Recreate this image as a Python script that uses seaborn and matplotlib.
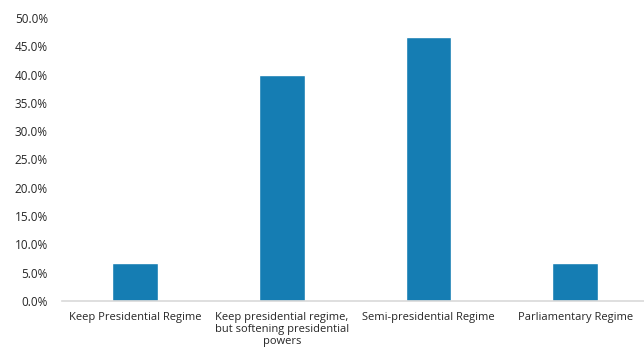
import matplotlib
matplotlib.use("Agg")
import matplotlib.pyplot as plt
import seaborn as sns
import pandas as pd
from matplotlib.ticker import PercentFormatter

# data
categories = ["Keep Presidential Regime",
              "Keep presidential regime,\nbut softening presidential\npowers",
              "Semi-presidential Regime",
              "Parliamentary Regime"]
shares = [0.067, 0.400, 0.467, 0.067]
yticks = [0.0, 0.05, 0.10, 0.15, 0.20, 0.25, 0.30, 0.35, 0.40, 0.45, 0.50]

df = pd.DataFrame({"option": categories, "share": shares})

sns.set_style("white")
plt.rcParams['font.family'] = ['Open Sans', 'DejaVu Sans']

fig = plt.figure(figsize=(6.44, 3.54), dpi=100)
ax = fig.add_axes([0.096, 0.150, 0.904, 0.799])

sns.barplot(data=df, x="option", y="share", color="#157db3", width=0.31,
            saturation=1, ax=ax)

ax.set_ylim(0, 0.5)
ax.set_xlim(-0.5, 3.47)
ax.set_yticks(yticks)
ax.yaxis.set_major_formatter(PercentFormatter(1.0, decimals=1))
ax.set_xlabel("")
ax.set_ylabel("")
ax.tick_params(axis="both", length=0, colors="#262626")
ax.tick_params(axis="x", pad=8, labelsize=8)
ax.tick_params(axis="y", pad=10, labelsize=8.5)
for lbl in ax.get_xticklabels():
    lbl.set_linespacing(1.15)

for side in ["top", "right", "left"]:
    ax.spines[side].set_visible(False)
ax.spines["bottom"].set_color("#d9d9d9")
ax.spines["bottom"].set_linewidth(1.2)

fig.savefig("out.png", dpi=100, facecolor="white")
